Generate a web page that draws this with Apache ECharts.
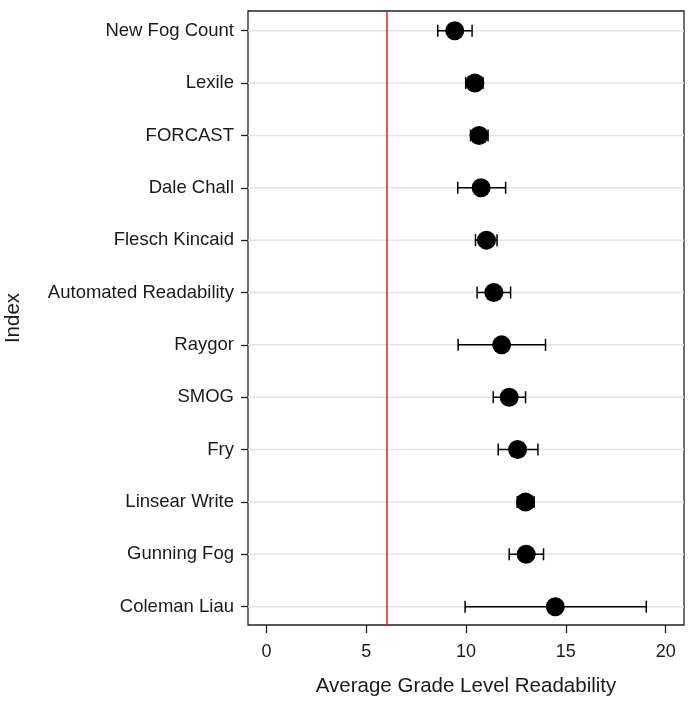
<!DOCTYPE html>
<html>
<head>
<meta charset="utf-8">
<script src="https://cdn.jsdelivr.net/npm/echarts@6/dist/echarts.min.js"></script>
<style>html,body{margin:0;padding:0;background:#fff;}#chart{width:688px;height:701px;}</style>
</head>
<body>
<div id="chart"></div>
<script>
const categories = ["New Fog Count","Lexile","FORCAST","Dale Chall","Flesch Kincaid","Automated Readability","Raygor","SMOG","Fry","Linsear Write","Gunning Fog","Coleman Liau"];
const means = [9.43,10.44,10.65,10.75,11.02,11.39,11.78,12.16,12.58,12.98,13.01,14.47];
const lower = [8.58,9.98,10.22,9.58,10.47,10.55,9.60,11.36,11.61,12.56,12.16,9.95];
const upper = [10.30,10.85,11.10,11.98,11.55,12.23,13.98,12.98,13.60,13.41,13.88,19.03];
const xTicks = [0,5,10,15,20];
const referenceLine = 6;

const FONT = '"Liberation Sans", Arial, sans-serif';
const rowIdx = categories.map((c,i)=>i);
const XMIN = -0.93, XMAX = 20.92;

const chart = echarts.init(document.getElementById('chart'));
chart.setOption({
  animation: false,
  grid: {left: 248, right: 4, top: 11, bottom: 76, show: true, borderColor: '#222', borderWidth: 1.3, backgroundColor: 'transparent', outerBoundsMode: 'none', containLabel: false},
  xAxis: {
    type: 'value', min: XMIN, max: XMAX,
    axisLine: {show: false, onZero: false},
    axisTick: {show: true, length: 8, customValues: xTicks, lineStyle: {color: '#222', width: 1.3}},
    axisLabel: {customValues: xTicks, color: '#1a1a1a', fontSize: 18, fontFamily: FONT, margin: 18},
    splitLine: {show: false},
    name: 'Average Grade Level Readability', nameLocation: 'middle', nameGap: 51,
    nameTextStyle: {fontSize: 20.5, fontFamily: FONT, color: '#1a1a1a'}
  },
  yAxis: {
    type: 'value', min: -0.376, max: 11.35, inverse: true,
    axisLine: {show: false, onZero: false},
    axisTick: {show: true, length: 7, customValues: rowIdx, lineStyle: {color: '#222', width: 1.3}},
    axisLabel: {customValues: rowIdx, color: '#1a1a1a', fontSize: 18.5, fontFamily: FONT, margin: 14,
      formatter: v => categories[Math.round(v)] || ''},
    splitLine: {show: false},
    name: 'Index', nameLocation: 'middle', nameGap: 224, nameRotate: 90,
    nameTextStyle: {fontSize: 20.5, fontFamily: FONT, color: '#1a1a1a'}
  },
  series: [
    {
      type: 'custom', z: 1, silent: true,
      data: rowIdx.map(i => [i]),
      renderItem: (params, api) => {
        const y = api.value(0);
        const a = api.coord([XMIN, y]);
        const b = api.coord([XMAX, y]);
        return {type: 'line', shape: {x1: a[0], y1: a[1], x2: b[0], y2: b[1]}, style: {stroke: '#e4e4e4', lineWidth: 1.5}};
      }
    },
    {
      type: 'scatter', data: [], z: 2,
      markLine: {silent: true, symbol: 'none', label: {show: false},
        lineStyle: {color: '#e0231c', width: 1.5, type: 'solid'},
        data: [{xAxis: referenceLine}]}
    },
    {
      type: 'custom', z: 3, silent: true,
      data: rowIdx.map(i => [lower[i], upper[i], i]),
      renderItem: (params, api) => {
        const y = api.value(2);
        const l = api.coord([api.value(0), y]);
        const u = api.coord([api.value(1), y]);
        const h = 6;
        const st = {stroke: '#000', lineWidth: 1.5};
        return {type: 'group', children: [
          {type: 'line', shape: {x1: l[0], y1: l[1], x2: u[0], y2: u[1]}, style: st},
          {type: 'line', shape: {x1: l[0], y1: l[1]-h, x2: l[0], y2: l[1]+h}, style: st},
          {type: 'line', shape: {x1: u[0], y1: u[1]-h, x2: u[0], y2: u[1]+h}, style: st}
        ]};
      }
    },
    {
      type: 'scatter', z: 4, symbol: 'circle', symbolSize: 19,
      itemStyle: {color: '#000', opacity: 1},
      data: rowIdx.map(i => [means[i], i])
    }
  ]
});
</script>
</body>
</html>
